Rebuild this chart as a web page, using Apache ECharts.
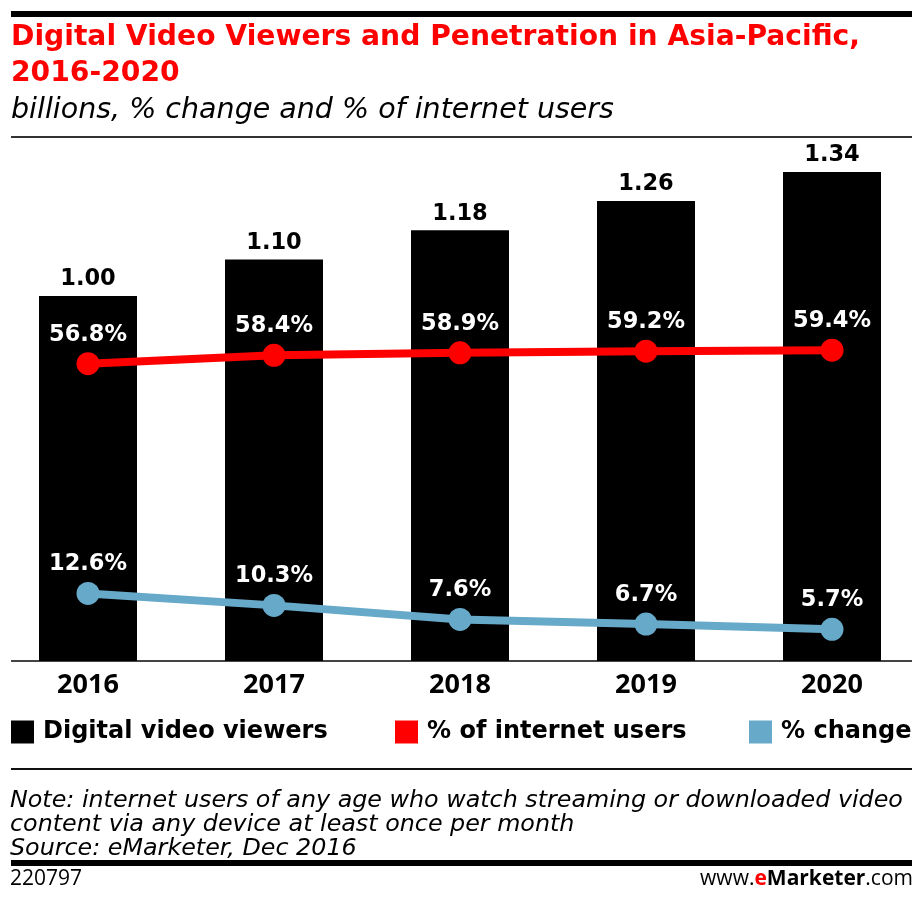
<!DOCTYPE html>
<html>
<head>
<meta charset="utf-8">
<script src="https://cdn.jsdelivr.net/npm/echarts@6/dist/echarts.min.js"></script>
<style>
html,body{margin:0;padding:0;background:#fff;}
#chart{width:922px;height:908px;}
</style>
</head>
<body>
<div id="chart"></div>
<script>
const years = ['2016','2017','2018','2019','2020'];
const viewers = [1.00, 1.10, 1.18, 1.26, 1.34];
const pctInternet = [56.8, 58.4, 58.9, 59.2, 59.4];
const pctChange = [12.6, 10.3, 7.6, 6.7, 5.7];
const seriesNames = ['Digital video viewers', '% of internet users', '% change'];
const titleText = 'Digital Video Viewers and Penetration in Asia-Pacific,\n2016-2020';
const subtitleText = 'billions, % change and % of internet users';
const noteLines = [
  'Note: internet users of any age who watch streaming or downloaded video',
  'content via any device at least once per month',
  'Source: eMarketer, Dec 2016'
];
const chartId = '220797';

const FONT = '"Open Sans", "Liberation Sans", sans-serif';
const DV = '"DejaVu Sans", sans-serif';
const RED = '#ff0000';
const BLUE = '#67a9c9';

const chart = echarts.init(document.getElementById('chart'));
chart.setOption({
  backgroundColor: '#fff',
  animation: false,
  title: [{
    text: titleText,
    left: 6, top: 15,
    textStyle: {color: RED, fontFamily: DV, fontWeight: 'bold', fontSize: 28.2, lineHeight: 36}
  }, {
    text: subtitleText,
    left: 6, top: 91,
    textStyle: {color: '#000', fontFamily: DV, fontStyle: 'italic', fontWeight: 'normal', fontSize: 28.5}
  }],
  legend: [
    {data: [seriesNames[0]], left: 11, top: 720},
    {data: [seriesNames[1]], left: 395, top: 720},
    {data: [seriesNames[2]], left: 749, top: 720}
  ].map(l => Object.assign(l, {
    padding: 0,
    icon: 'rect', itemWidth: 23, itemHeight: 23, itemGap: 0,
    textStyle: {fontFamily: DV, fontWeight: 'bold', fontSize: 24, color: '#000', padding: [0,0,0,4]}
  })),
  grid: {left: -5, right: -3, top: 136, bottom: 247, containLabel: false, outerBoundsMode: 'none'},
  xAxis: {
    type: 'category', data: years,
    axisLine: {show: false}, axisTick: {show: false},
    axisLabel: {margin: 11, color: '#000', fontFamily: FONT, fontWeight: 'bold', fontSize: 27}
  },
  yAxis: [
    {type: 'value', min: 0, max: 525/365, show: false, splitLine: {show: false}},
    {type: 'value', min: -0.4, max: 100.6, show: false, splitLine: {show: false}}
  ],
  series: [{
    name: seriesNames[0], type: 'bar', data: viewers, barWidth: 98,
    itemStyle: {color: '#000'},
    label: {show: true, position: 'top', distance: 5, color: '#000',
      fontFamily: DV, fontWeight: 'bold', fontSize: 22.5,
      formatter: p => p.value.toFixed(2)}
  }, {
    name: seriesNames[1], type: 'line', yAxisIndex: 1, data: pctInternet,
    symbol: 'circle', symbolSize: 23,
    lineStyle: {color: RED, width: 8}, itemStyle: {color: RED},
    label: {show: true, position: 'top', distance: 6, color: '#fff',
      fontFamily: DV, fontWeight: 'bold', fontSize: 22.5,
      formatter: p => p.value.toFixed(1) + '%'}
  }, {
    name: seriesNames[2], type: 'line', yAxisIndex: 1, data: pctChange,
    symbol: 'circle', symbolSize: 23,
    lineStyle: {color: BLUE, width: 8}, itemStyle: {color: BLUE},
    label: {show: true, position: 'top', distance: 6, color: '#fff',
      fontFamily: DV, fontWeight: 'bold', fontSize: 22.5,
      formatter: p => p.value.toFixed(1) + '%'}
  }],
  graphic: [
    {type: 'rect', shape: {x: 11, y: 11, width: 901, height: 6}, style: {fill: '#000'}},
    {type: 'rect', shape: {x: 11, y: 136, width: 901, height: 2}, style: {fill: '#333'}},
    {type: 'rect', shape: {x: 11, y: 660, width: 901, height: 2}, style: {fill: '#444'}},
    {type: 'rect', shape: {x: 11, y: 768, width: 901, height: 2}, style: {fill: '#111'}},
    {type: 'rect', shape: {x: 11, y: 860, width: 901, height: 6}, style: {fill: '#000'}},
    {type: 'text', left: 10, top: 789, style: {
      text: noteLines.join('\n'), fill: '#000', font: 'italic 23.8px ' + DV, lineHeight: 24}},
    {type: 'text', left: 10, top: 869, style: {
      text: chartId, fill: '#000', font: '21px ' + FONT}},
    {type: 'text', right: 9, top: 869, style: {
      rich: {
        a: {fill: '#000', font: '21px ' + FONT},
        e: {fill: RED, font: 'bold 21px ' + FONT},
        b: {fill: '#000', font: 'bold 21px ' + FONT}
      },
      text: '{a|www.}{e|e}{b|Marketer}{a|.com}'
    }}
  ]
});
</script>
</body>
</html>
